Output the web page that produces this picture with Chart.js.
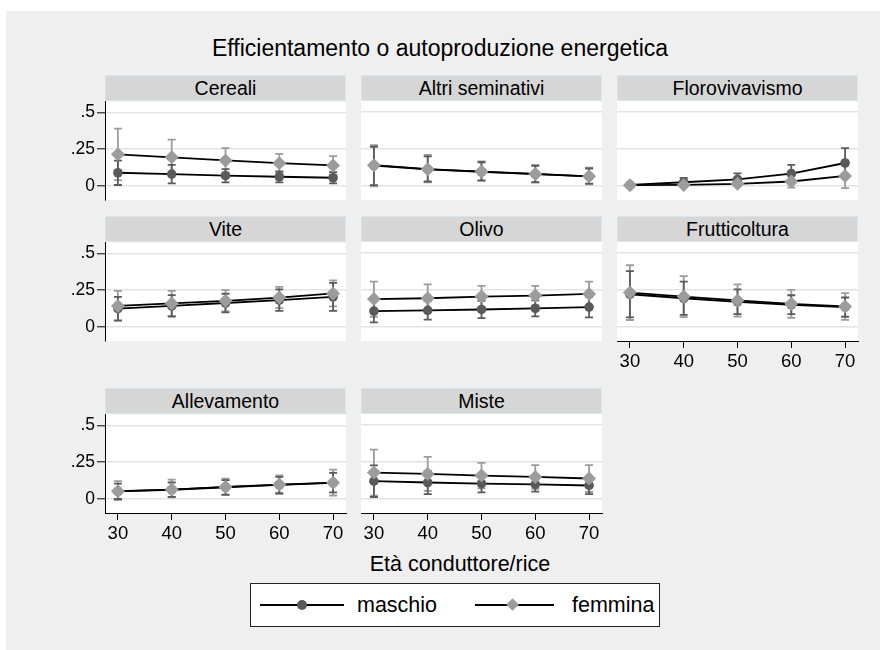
<!DOCTYPE html>
<html lang="it">
<head>
<meta charset="UTF-8">
<title>Efficientamento o autoproduzione energetica</title>
<script src="https://cdn.jsdelivr.net/npm/chart.js"></script>
<style>
  body { margin: 0; background: #fff; font-family: 'Liberation Sans', Arial, sans-serif; }
  #page { position: absolute; left: 6px; top: 11px; width: 874px; height: 639px; background: #efefef; }
  .abs { position: absolute; }
  .strip {
    position: absolute; height: 26px; background: #d6d6d6; border: 1px solid #dde3e6;
    box-sizing: border-box; text-align: center; font-size: 19.5px; line-height: 25px; color: #000;
  }
  canvas { position: absolute; }
  #titolo { position: absolute; left: 0; width: 880px; top: 35px; text-align: center; font-size: 23px; }
  #xtitolo { position: absolute; left: 260px; width: 400px; top: 552px; text-align: center; font-size: 21.5px; }
  #legenda { position: absolute; left: 250px; top: 583px; width: 410px; height: 44px; background: #fff;
    border: 1px solid #222; box-sizing: border-box; }
  .leg-line { position: absolute; height: 2px; background: #000; }
  .leg-txt { position: absolute; font-size: 21.5px; line-height: 22px; }
</style>
</head>
<body>
<div id="page"></div>
<div id="titolo">Efficientamento o autoproduzione energetica</div>
<div id="xtitolo">Età conduttore/rice</div>
<div id="legenda">
  <div class="leg-line" style="left:9px;top:20px;width:84px"></div>
  <div class="abs" style="left:46px;top:16px;width:10px;height:10px;border-radius:50%;background:#5a5a5a"></div>
  <div class="leg-txt" style="left:106px;top:10px">maschio</div>
  <div class="leg-line" style="left:224px;top:20px;width:79px"></div>
  <div class="abs" style="left:257px;top:16px;width:9px;height:9px;background:#9c9c9c;transform:rotate(45deg)"></div>
  <div class="leg-txt" style="left:321px;top:10px">femmina</div>
</div>

<script>
// età del conduttore / della conduttrice
const eta = [30, 40, 50, 60, 70];
const yTicks = [0, 0.25, 0.5];
const yTickLabels = ['0', '.25', '.5'];
const pannelli = ['Cereali', 'Altri seminativi', 'Florovivavismo', 'Vite', 'Olivo',
                  'Frutticoltura', 'Allevamento', 'Miste'];

// stime e intervalli (M = maschio, F = femmina)
const cerealiM   = [0.090, 0.081, 0.070, 0.063, 0.056];
const cerealiMLo = [0.007, 0.018, 0.025, 0.025, 0.018];
const cerealiMHi = [0.173, 0.144, 0.115, 0.100, 0.094];
const cerealiF   = [0.215, 0.195, 0.174, 0.155, 0.140];
const cerealiFLo = [0.040, 0.077, 0.092, 0.092, 0.077];
const cerealiFHi = [0.390, 0.315, 0.257, 0.218, 0.203];

const altriM   = [0.138, 0.112, 0.096, 0.080, 0.064];
const altriMLo = [0.005, 0.030, 0.038, 0.026, 0.015];
const altriMHi = [0.265, 0.200, 0.160, 0.135, 0.118];
const altriF   = [0.140, 0.113, 0.097, 0.081, 0.065];
const altriFLo = [-0.002, 0.025, 0.034, 0.022, 0.011];
const altriFHi = [0.275, 0.210, 0.165, 0.142, 0.124];

const floroM   = [0.007, 0.025, 0.045, 0.083, 0.155];
const floroMLo = [0.000, 0.000, 0.008, 0.025, 0.055];
const floroMHi = [0.014, 0.054, 0.085, 0.142, 0.255];
const floroF   = [0.005, 0.007, 0.014, 0.030, 0.068];
const floroFLo = [0.000, 0.000, 0.000, -0.012, -0.015];
const floroFHi = [0.010, 0.018, 0.030, 0.072, 0.150];

const viteM   = [0.125, 0.143, 0.163, 0.183, 0.205];
const viteMLo = [0.045, 0.070, 0.100, 0.110, 0.110];
const viteMHi = [0.205, 0.216, 0.226, 0.256, 0.300];
const viteF   = [0.143, 0.160, 0.178, 0.200, 0.228];
const viteFLo = [0.042, 0.075, 0.106, 0.128, 0.140];
const viteFHi = [0.245, 0.245, 0.250, 0.272, 0.317];

const olivoM   = [0.107, 0.112, 0.118, 0.125, 0.134];
const olivoMLo = [0.031, 0.049, 0.060, 0.071, 0.065];
const olivoMHi = [0.183, 0.175, 0.176, 0.179, 0.203];
const olivoF   = [0.188, 0.194, 0.205, 0.212, 0.223];
const olivoFLo = [0.069, 0.100, 0.133, 0.147, 0.140];
const olivoFHi = [0.306, 0.288, 0.277, 0.277, 0.306];

const fruttiM   = [0.221, 0.194, 0.170, 0.150, 0.134];
const fruttiMLo = [0.065, 0.082, 0.086, 0.086, 0.069];
const fruttiMHi = [0.377, 0.306, 0.254, 0.214, 0.199];
const fruttiF   = [0.232, 0.205, 0.179, 0.156, 0.138];
const fruttiFLo = [0.047, 0.066, 0.070, 0.062, 0.048];
const fruttiFHi = [0.417, 0.344, 0.288, 0.250, 0.228];

const allevM   = [0.052, 0.063, 0.080, 0.096, 0.110];
const allevMLo = [0.000, 0.015, 0.030, 0.040, 0.045];
const allevMHi = [0.105, 0.112, 0.128, 0.150, 0.178];
const allevF   = [0.053, 0.064, 0.082, 0.098, 0.111];
const allevFLo = [-0.007, 0.011, 0.027, 0.033, 0.024];
const allevFHi = [0.122, 0.131, 0.138, 0.160, 0.200];

const misteM   = [0.120, 0.111, 0.104, 0.098, 0.091];
const misteMLo = [0.013, 0.033, 0.044, 0.049, 0.033];
const misteMHi = [0.227, 0.189, 0.164, 0.147, 0.149];
const misteF   = [0.178, 0.169, 0.158, 0.149, 0.138];
const misteFLo = [0.023, 0.054, 0.072, 0.069, 0.047];
const misteFHi = [0.333, 0.284, 0.244, 0.229, 0.229];

const serie = [
  [cerealiM, cerealiMLo, cerealiMHi, cerealiF, cerealiFLo, cerealiFHi],
  [altriM, altriMLo, altriMHi, altriF, altriFLo, altriFHi],
  [floroM, floroMLo, floroMHi, floroF, floroFLo, floroFHi],
  [viteM, viteMLo, viteMHi, viteF, viteFLo, viteFHi],
  [olivoM, olivoMLo, olivoMHi, olivoF, olivoFLo, olivoFHi],
  [fruttiM, fruttiMLo, fruttiMHi, fruttiF, fruttiFLo, fruttiFHi],
  [allevM, allevMLo, allevMHi, allevF, allevFLo, allevFHi],
  [misteM, misteMLo, misteMHi, misteF, misteFLo, misteFHi]
];

// geometria dei pannelli
const colX = [105, 361, 617];
const stripTop = [75, 216, 388];
const larg = 241, alt = 99, padSx = 60, padSu = 12, padDx = 12, padGiu = 40;
const colM = '#5a5a5a', colF = '#9c9c9c';
const fontTick = { family: "'Liberation Sans', Arial, sans-serif", size: 17.5 };

// sfondo bianco dell'area e barre di errore
const pannelloPlugin = {
  id: 'pannello',
  beforeDraw(chart) {
    const a = chart.chartArea, ctx = chart.ctx;
    ctx.save();
    ctx.fillStyle = '#fff';
    ctx.fillRect(a.left, a.top, a.width, a.height);
    ctx.restore();
  },
  beforeDatasetsDraw(chart) {
    const ctx = chart.ctx, xs = chart.scales.x, ys = chart.scales.y;
    ctx.save();
    chart.data.datasets.slice().reverse().forEach(ds => {
      ctx.strokeStyle = ds.errColor;
      ctx.lineWidth = 1.8;
      eta.forEach((e, j) => {
        const x = xs.getPixelForValue(e);
        const y1 = ys.getPixelForValue(ds.lo[j]), y2 = ys.getPixelForValue(ds.hi[j]);
        ctx.beginPath();
        ctx.moveTo(x, y1); ctx.lineTo(x, y2);
        ctx.moveTo(x - 4, y1); ctx.lineTo(x + 4, y1);
        ctx.moveTo(x - 4, y2); ctx.lineTo(x + 4, y2);
        ctx.stroke();
      });
    });
    ctx.restore();
  }
};

pannelli.forEach((nome, i) => {
  const r = Math.floor(i / 3), c = i % 3;
  const asseY = c === 0;
  const asseX = i >= 5;
  const plotTop = stripTop[r] + 26;

  const strip = document.createElement('div');
  strip.className = 'strip';
  strip.style.left = colX[c] + 'px';
  strip.style.top = stripTop[r] + 'px';
  strip.style.width = larg + 'px';
  strip.textContent = nome;
  document.body.appendChild(strip);

  const cv = document.createElement('canvas');
  cv.width = padSx + larg + padDx;
  cv.height = padSu + alt + padGiu;
  cv.style.left = (colX[c] - padSx) + 'px';
  cv.style.top = (plotTop - padSu) + 'px';
  document.body.appendChild(cv);

  const s = serie[i];
  new Chart(cv.getContext('2d'), {
    type: 'line',
    data: {
      datasets: [
        { label: 'maschio', data: eta.map((e, j) => ({ x: e, y: s[0][j] })), lo: s[1], hi: s[2],
          errColor: colM, borderColor: '#000', borderWidth: 1.8, pointStyle: 'circle',
          pointRadius: 4.8, pointBackgroundColor: colM, pointBorderWidth: 0, order: 1 },
        { label: 'femmina', data: eta.map((e, j) => ({ x: e, y: s[3][j] })), lo: s[4], hi: s[5],
          errColor: colF, borderColor: '#000', borderWidth: 1.8, pointStyle: 'rectRot',
          pointRadius: 7, pointBackgroundColor: colF, pointBorderWidth: 0, order: 0 }
      ]
    },
    options: {
      responsive: false,
      animation: false,
      devicePixelRatio: 1,
      layout: { padding: { top: padSu, right: padDx, left: 0, bottom: 0 } },
      plugins: { legend: { display: false }, tooltip: { enabled: false } },
      scales: {
        x: {
          type: 'linear', min: 27.6, max: 72.4,
          afterBuildTicks: sc => { sc.ticks = eta.map(v => ({ value: v })); },
          afterFit: sc => { sc.height = padGiu; },
          grid: { drawOnChartArea: false, drawTicks: asseX, tickLength: 7, tickColor: '#000' },
          border: { display: asseX, color: '#000', width: 1 },
          ticks: { display: asseX, color: '#000', font: { ...fontTick, size: 18.5 }, padding: 3, maxRotation: 0 }
        },
        y: {
          min: -0.095, max: 0.574,
          afterBuildTicks: sc => { sc.ticks = yTicks.map(v => ({ value: v })); },
          afterFit: sc => { sc.width = padSx; },
          grid: { color: '#e3e3e3', lineWidth: 1.6, drawTicks: asseY, tickLength: 8, tickColor: '#000', tickWidth: 1 },
          border: { display: asseY, color: '#000', width: 1 },
          ticks: { display: asseY, color: '#000', font: fontTick, padding: 2,
                   callback: (v, idx) => yTickLabels[idx] }
        }
      }
    },
    plugins: [pannelloPlugin]
  });
});
</script>
</body>
</html>
